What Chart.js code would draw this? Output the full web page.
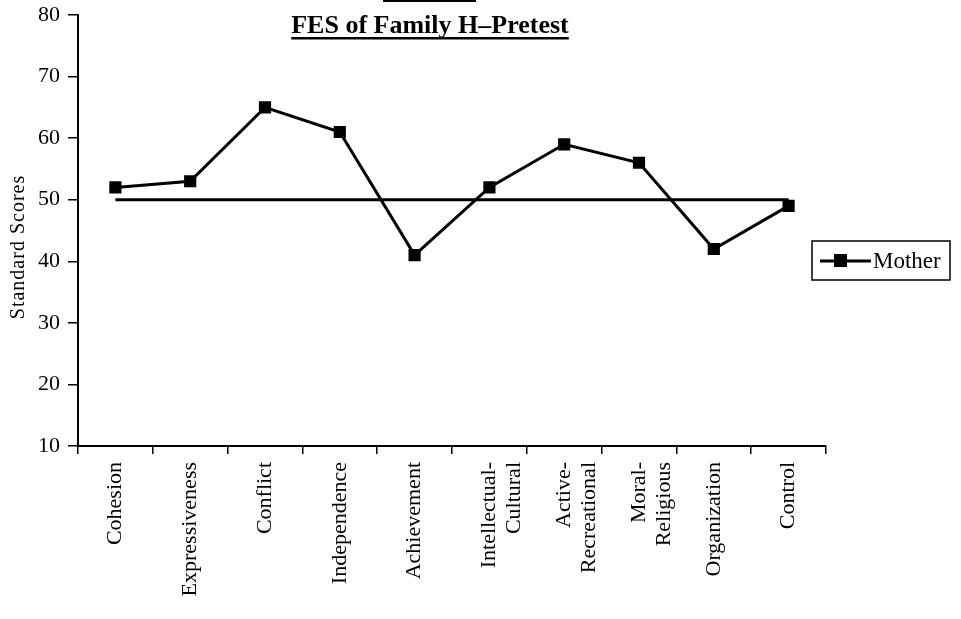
<!DOCTYPE html>
<html><head><meta charset="utf-8">
<script src="https://cdn.jsdelivr.net/npm/chart.js@4/dist/chart.umd.min.js"></script>
<style>html,body{margin:0;padding:0;background:#fff}#wrap{width:961px;height:619px}</style>
</head><body><div id="wrap"><canvas id="c" width="961" height="619"></canvas></div>
<script>
const categories = [
  "Cohesion", "Expressiveness", "Conflict", "Independence", "Achievement",
  ["Intellectual-", "Cultural"], ["Active-", "Recreational"], ["Moral-", "Religious"],
  "Organization", "Control"
];
const motherScores = [52, 53, 65, 61, 41, 52, 59, 56, 42, 49];
const meanScores = [50, 50, 50, 50, 50, 50, 50, 50, 50, 50];
const yTicks = [10, 20, 30, 40, 50, 60, 70, 80];
const titleText = "FES of Family H\u2013Pretest";
const yTitle = "Standard Scores";
const legendLabel = "Mother";

const FONT = "'Liberation Serif', 'DejaVu Serif', serif";

const decor = {
  id: 'decor',
  afterDraw(chart) {
    const ctx = chart.ctx;
    ctx.save();
    ctx.fillStyle = '#000';
    ctx.fillRect(383, 0, 93, 2);
    // title
    ctx.font = "bold 26px " + FONT;
    ctx.textAlign = 'center';
    ctx.textBaseline = 'alphabetic';
    ctx.fillText(titleText, 430, 33);
    const w = ctx.measureText(titleText).width;
    ctx.fillRect(430 - w / 2, 37, w, 2.5);
    // y axis title
    ctx.save();
    ctx.translate(19, 247);
    ctx.rotate(-Math.PI / 2);
    ctx.font = "20px " + FONT;
    ctx.textAlign = 'center';
    ctx.textBaseline = 'middle';
    ctx.letterSpacing = '1px';
    ctx.fillText(yTitle, 0, 0);
    ctx.restore();
    // legend
    ctx.lineWidth = 1.5;
    ctx.strokeStyle = '#000';
    ctx.strokeRect(812, 241, 138, 39);
    ctx.lineWidth = 3;
    ctx.beginPath(); ctx.moveTo(820, 261); ctx.lineTo(871, 261); ctx.stroke();
    ctx.fillRect(834, 254, 13, 13);
    ctx.font = "23px " + FONT;
    ctx.textAlign = 'left';
    ctx.textBaseline = 'middle';
    ctx.fillText(legendLabel, 873, 262);
    ctx.restore();
  }
};

new Chart(document.getElementById('c'), {
  type: 'line',
  data: {
    labels: categories,
    datasets: [
      {
        label: 'Mean', data: meanScores, borderColor: '#000', borderWidth: 3,
        pointRadius: 0, fill: false, tension: 0, order: 2
      },
      {
        label: legendLabel, data: motherScores, borderColor: '#000', backgroundColor: '#000',
        borderWidth: 3, pointStyle: 'rect', pointRadius: 6.5, pointBackgroundColor: '#000',
        pointBorderColor: '#000', fill: false, tension: 0, order: 1
      }
    ]
  },
  options: {
    responsive: false,
    animation: false,
    devicePixelRatio: 1,
    layout: { padding: { top: 15, left: 0, right: 135, bottom: 0 } },
    plugins: { legend: { display: false }, title: { display: false }, tooltip: { enabled: false } },
    scales: {
      x: {
        type: 'category',
        offset: true,
        grid: { display: true, drawOnChartArea: false, offset: true, tickLength: 8, color: '#000', lineWidth: 1.5 },
        border: { display: true, color: '#000', width: 2 },
        ticks: { color: '#000', font: { family: FONT, size: 22, lineHeight: 1.15 }, maxRotation: 90, minRotation: 90, autoSkip: false, padding: 8 },
        afterFit(s) { s.height = 173; s.paddingLeft = 0; s.paddingRight = 0; }
      },
      y: {
        min: 10, max: 80,
        afterBuildTicks(s) { s.ticks = yTicks.map(v => ({ value: v })); },
        grid: { display: true, drawOnChartArea: false, tickLength: 10, color: '#000', lineWidth: 1.5 },
        border: { display: true, color: '#000', width: 2 },
        ticks: { color: '#000', font: { family: FONT, size: 22 }, padding: 8 },
        title: { display: false },
        afterFit(s) { s.width = 78; s.paddingTop = 0; s.paddingBottom = 0; }
      }
    }
  },
  plugins: [decor]
});
</script></body></html>
